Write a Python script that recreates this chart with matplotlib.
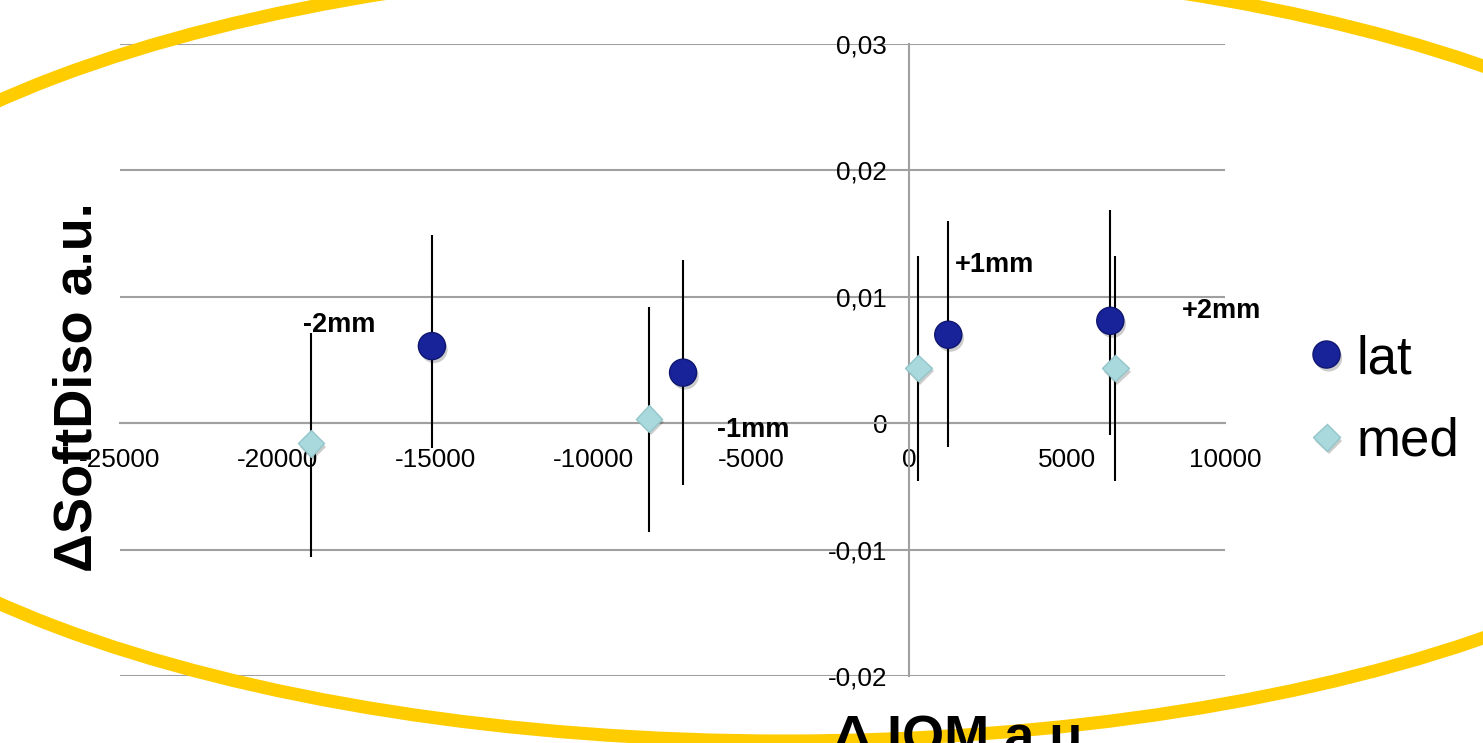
import matplotlib.pyplot as plt
import matplotlib.patheffects as pe
from matplotlib.patches import Ellipse
from matplotlib.ticker import FuncFormatter
from matplotlib.transforms import IdentityTransform
import numpy as np

plt.rcParams['font.family'] = ['Liberation Sans', 'DejaVu Sans']

# data
lat_x = [-15120, -7165, 1235, 6367]
lat_y = [0.0061, 0.0040, 0.0070, 0.0081]
lat_hi = [0.0149, 0.0129, 0.0160, 0.01685]
lat_lo = [-0.0020, -0.0049, -0.0019, -0.00095]

med_x = [-18950, -8245, 285, 6525]
med_y = [-0.0016, 0.00037, 0.00438, 0.00435]
med_hi = [0.00714, 0.0092, 0.0132, 0.0132]
med_lo = [-0.0106, -0.0086, -0.0046, -0.0046]

labels = ['-2mm', '-1mm', '+1mm', '+2mm']
label_x = [-19195, -6080, 1457, 8647]
label_y = [0.0078, -0.0005, 0.0125, 0.0089]

x_ticks = [-25000, -20000, -15000, -10000, -5000, 0, 5000, 10000]
y_ticks = [-0.02, -0.01, 0, 0.01, 0.02, 0.03]

grey = '#a0a0a0'

fig = plt.figure(figsize=(14.83, 7.43), dpi=100)
ax = fig.add_axes([120 / 1483, 67 / 743, 1105 / 1483, 632 / 743])
ax.set_xlim(-25000, 10000)
ax.set_ylim(-0.02, 0.03)

# axes cross at zero
ax.spines['left'].set_position(('data', 0))
ax.spines['bottom'].set_position(('data', 0))
ax.spines['top'].set_visible(False)
ax.spines['right'].set_visible(False)
for s in ['left', 'bottom']:
    ax.spines[s].set_color(grey)
    ax.spines[s].set_linewidth(1.5)
ax.set_xticks(x_ticks)
ax.set_yticks(y_ticks)
ax.yaxis.grid(True, color=grey, linewidth=1.5)
ax.set_axisbelow(True)
ax.tick_params(axis='both', length=0, labelsize=18.8)
ax.tick_params(axis='x', pad=17.5)
ax.tick_params(axis='y', pad=16)
ax.xaxis.set_major_formatter(FuncFormatter(lambda v, p: '%d' % v))
ax.yaxis.set_major_formatter(FuncFormatter(lambda v, p: ('%g' % round(v, 3)).replace('.', ',')))

lat_y = np.array(lat_y)
med_y = np.array(med_y)
ax.errorbar(lat_x, lat_y, yerr=[lat_y - np.array(lat_lo), np.array(lat_hi) - lat_y],
            fmt='none', ecolor='black', elinewidth=1.5, zorder=3)
ax.errorbar(med_x, med_y, yerr=[med_y - np.array(med_lo), np.array(med_hi) - med_y],
            fmt='none', ecolor='black', elinewidth=1.5, zorder=3)
shadow = [pe.SimplePatchShadow(offset=(1.5, -2.5), shadow_rgbFace='black', alpha=0.2), pe.Normal()]
ax.plot(lat_x, lat_y, 'o', ms=19.5, mfc='#18239a', mec='#0e1670', mew=1, label='lat', zorder=4,
        path_effects=shadow)
ax.plot(med_x, med_y, 'D', ms=13.5, mfc='#a9d9dd', mec='#93c6ca', mew=1, label='med', zorder=4,
        path_effects=shadow)

for t, x, y in zip(labels, label_x, label_y):
    ax.text(x, y, t, fontsize=19.5, fontweight='bold', ha='left', va='center', zorder=5)

ax.legend(loc='upper left', bbox_to_anchor=(1312 / 1483, 1 - 334 / 743), bbox_transform=fig.transFigure,
          frameon=False, fontsize=38, borderpad=0, handlelength=0.55, handletextpad=0.3,
          labelspacing=0.62, borderaxespad=0)

fig.text(78 / 1483, 1 - 387 / 743, 'ΔSoftDiso a.u.', rotation=90, fontsize=39, fontweight='bold',
         ha='center', va='center', zorder=6)

# yellow ring over the slide
ring = Ellipse((785, 743 - 352), 2060, 778, fill=False, ec='#ffcc00', lw=9.4,
               transform=IdentityTransform(), zorder=2)
fig.add_artist(ring)

fig.text(833 / 1483, 1 - 714 / 743, 'Δ IQM a.u.', fontsize=39, fontweight='bold',
         ha='left', va='top', zorder=6)

fig.savefig('out.png', dpi=100)
